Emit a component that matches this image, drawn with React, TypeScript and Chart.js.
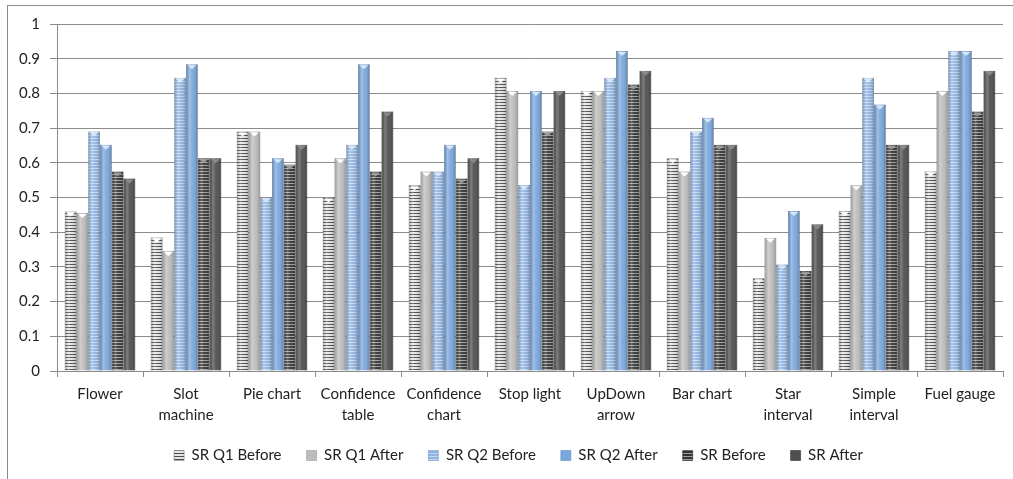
import React, { useEffect, useRef } from "react";
import { Chart, registerables } from "chart.js";

Chart.register(...registerables);

// Categories (multi-line labels are arrays)
const categories: (string | string[])[] = [
  "Flower",
  ["Slot", "machine"],
  "Pie chart",
  ["Confidence", "table"],
  ["Confidence", "chart"],
  "Stop light",
  ["UpDown", "arrow"],
  "Bar chart",
  ["Star", "interval"],
  ["Simple", "interval"],
  "Fuel gauge",
];

const seriesNames = [
  "SR Q1 Before",
  "SR Q1 After",
  "SR Q2 Before",
  "SR Q2 After",
  "SR Before",
  "SR After",
];

const srQ1Before = [0.46, 0.385, 0.69, 0.5, 0.535, 0.845, 0.807, 0.613, 0.267, 0.461, 0.575];
const srQ1After = [0.455, 0.346, 0.69, 0.613, 0.575, 0.807, 0.807, 0.575, 0.384, 0.535, 0.807];
const srQ2Before = [0.69, 0.845, 0.5, 0.652, 0.575, 0.536, 0.845, 0.69, 0.307, 0.845, 0.922];
const srQ2After = [0.652, 0.884, 0.613, 0.884, 0.652, 0.807, 0.922, 0.73, 0.461, 0.768, 0.922];
const srBefore = [0.575, 0.613, 0.595, 0.575, 0.555, 0.69, 0.826, 0.652, 0.288, 0.652, 0.748];
const srAfter = [0.555, 0.613, 0.652, 0.748, 0.613, 0.807, 0.865, 0.652, 0.423, 0.652, 0.865];

const yTicks = [0, 0.1, 0.2, 0.3, 0.4, 0.5, 0.6, 0.7, 0.8, 0.9, 1];

const FONT = "Lato, 'Open Sans', sans-serif";

// Horizontal-stripe fill: one thin line every few pixels over a base colour
function stripes(line: string, base: string): CanvasPattern | string {
  const c = document.createElement("canvas");
  c.width = 4;
  c.height = 3;
  const g = c.getContext("2d");
  if (!g) return base;
  g.fillStyle = base;
  g.fillRect(0, 0, 4, 3);
  g.fillStyle = line;
  g.fillRect(0, 0, 4, 1);
  return g.createPattern(c, "repeat") || base;
}

// Rounded "cylinder" shading and a small cap triangle on every bar
const barShade = {
  id: "barShade",
  afterDatasetsDraw(chart: any) {
    const ctx: CanvasRenderingContext2D = chart.ctx;
    const caps = ["#ffffff", "#ffffff", "#d7e6f8", "#d7e6f8", "#9a9a9a", "#8a8a8a"];
    chart.data.datasets.forEach((_ds: any, di: number) => {
      const meta = chart.getDatasetMeta(di);
      if (meta.hidden) return;
      meta.data.forEach((bar: any) => {
        const { x, y, base, width } = bar.getProps(["x", "y", "base", "width"], true);
        const left = x - width / 2;
        const h = base - y;
        ctx.save();
        const g = ctx.createLinearGradient(left, 0, left + width, 0);
        g.addColorStop(0, "rgba(0,0,0,0.18)");
        g.addColorStop(0.3, "rgba(255,255,255,0.28)");
        g.addColorStop(0.55, "rgba(255,255,255,0.05)");
        g.addColorStop(1, "rgba(0,0,0,0.25)");
        ctx.fillStyle = g;
        ctx.fillRect(left, y, width, h);
        // cap
        ctx.fillStyle = caps[di];
        ctx.beginPath();
        ctx.moveTo(left + 1.5, y + 1);
        ctx.lineTo(left + width - 1.5, y + 1);
        ctx.lineTo(x, y + 5);
        ctx.closePath();
        ctx.fill();
        ctx.restore();
      });
    });
  },
};

// Nudge the legend row a little to the right of centre
const legendShift = {
  id: "legendShift",
  afterLayout(chart: any) {
    const lg = chart.legend;
    if (!lg) return;
    lg.left += 17;
    lg.right += 17;
  },
};

export default function App() {
  const ref = useRef<HTMLCanvasElement | null>(null);

  useEffect(() => {
    if (!ref.current) return;
    const fills = [
      stripes("#4a4a4a", "#e6e6e6"),
      "#bdbdbd",
      stripes("#c4d8f2", "#8db3e2"),
      "#7ba7dc",
      stripes("#a0a0a0", "#333333"),
      "#4f4f4f",
    ];
    const borders = ["#7a7a7a", "#9a9a9a", "#6f95c4", "#5f8bc2", "#262626", "#333333"];
    const values = [srQ1Before, srQ1After, srQ2Before, srQ2After, srBefore, srAfter];

    const chart = new Chart(ref.current, {
      type: "bar",
      data: {
        labels: categories,
        datasets: seriesNames.map((name, i) => ({
          label: name,
          data: values[i],
          backgroundColor: fills[i] as any,
          borderColor: borders[i],
          borderWidth: 0.6,
          categoryPercentage: 0.82,
          barPercentage: 1,
        })),
      },
      options: {
        responsive: false,
        animation: false,
        layout: { padding: { left: 0, right: 10, top: 24, bottom: 6 } },
        plugins: {
          tooltip: { enabled: false },
          legend: {
            position: "bottom",
            labels: {
              boxWidth: 10,
              boxHeight: 10,
              padding: 25,
              color: "#222",
              font: { family: FONT, size: 15 },
            },
          },
        },
        scales: {
          x: {
            offset: true,
            grid: {
              offset: true,
              drawOnChartArea: false,
              drawTicks: true,
              tickLength: 6,
              color: "#8c8c8c",
            },
            border: { color: "#8c8c8c" },
            ticks: {
              color: "#222",
              padding: 6,
              maxRotation: 0,
              autoSkip: false,
              font: { family: FONT, size: 15, lineHeight: 1.45 },
            },
            afterFit: (s: any) => {
              s.height = 52;
            },
          },
          y: {
            min: 0,
            max: 1,
            afterBuildTicks: (s: any) => {
              s.ticks = yTicks.map((v) => ({ value: v }));
            },
            grid: { color: "#8c8c8c", tickLength: 7 },
            border: { color: "#8c8c8c" },
            ticks: {
              color: "#222",
              padding: 10,
              font: { family: FONT, size: 15 },
              callback: (v: any) => String(Number(Number(v).toFixed(1))),
            },
            afterFit: (s: any) => {
              s.width = 57;
            },
          },
        },
      },
      plugins: [barShade, legendShift],
    });
    return () => chart.destroy();
  }, []);

  return (
    <div
      style={{
        position: "absolute",
        left: 0,
        top: 0,
        width: 1013,
        height: 479,
        background: "#fff",
        overflow: "hidden",
      }}
    >
      <canvas ref={ref} width={1013} height={479} style={{ position: "absolute", left: 0, top: 0 }} />
      <div
        style={{
          position: "absolute",
          left: 7,
          top: 5,
          right: 0,
          bottom: 0,
          borderLeft: "1px solid #8a8a8a",
          borderTop: "1px solid #8a8a8a",
          pointerEvents: "none",
        }}
      />
    </div>
  );
}
